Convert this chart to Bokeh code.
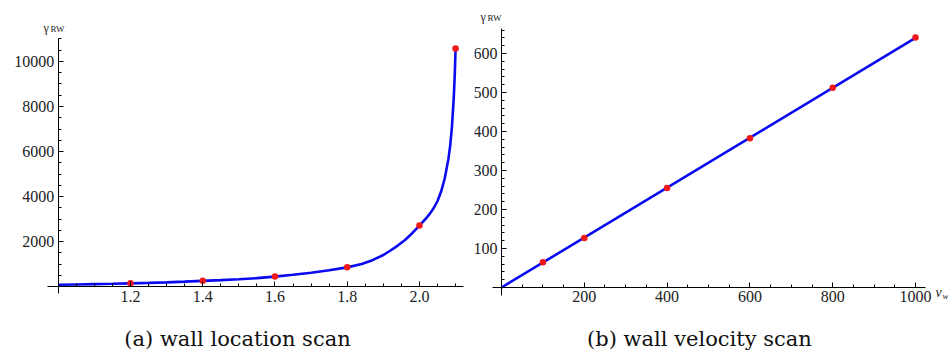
from bokeh.plotting import figure
from bokeh.models import FixedTicker, Label, Range1d, PrintfTickFormatter
from bokeh.layouts import row
from bokeh.embed import file_html
from bokeh.resources import INLINE

# ---------------- data: wall location scan ----------------
loc_curve_x = [1.00, 1.05, 1.10, 1.15, 1.20, 1.25, 1.30, 1.35, 1.40, 1.45,
               1.50, 1.55, 1.60, 1.65, 1.70, 1.75, 1.80, 1.84, 1.87, 1.90,
               1.92, 1.94, 1.96, 1.98, 2.00, 2.01, 2.02, 2.03, 2.04, 2.05,
               2.06, 2.07, 2.08, 2.085, 2.09, 2.095, 2.098, 2.10]
loc_curve_y = [75, 90, 105, 120, 140, 160, 185, 215, 250, 284,
               322, 372, 440, 520, 610, 720, 850, 1000, 1170, 1400,
               1600, 1820, 2070, 2370, 2710, 2880, 3060, 3260, 3500, 3800,
               4220, 4800, 5650, 6250, 7100, 8380, 9500, 10580]
loc_pts_x = [1.2, 1.4, 1.6, 1.8, 2.0, 2.1]
loc_pts_y = [140, 260, 440, 860, 2710, 10580]
loc_xticks = [1.2, 1.4, 1.6, 1.8, 2.0]
loc_xminor = [1.0 + 0.05 * i for i in range(23)]
loc_yticks = [2000, 4000, 6000, 8000, 10000]
loc_yminor = [500 * i for i in range(23)]

# ---------------- data: wall velocity scan ----------------
vel_line_x = [0, 1000]
vel_line_y = [0, 640]
vel_pts_x = [100, 200, 400, 600, 800, 1000]
vel_pts_y = [65, 127, 255, 383, 512, 641]
vel_xticks = [200, 400, 600, 800, 1000]
vel_xminor = [50 * i for i in range(21)]
vel_yticks = [100, 200, 300, 400, 500, 600]
vel_yminor = [20 * i for i in range(34)]

W, H = 474, 354
TICK_FONT = "Liberation Serif"
CAP_FONT = "DejaVu Serif"
LINE_COLOR = "#0a0af0"
DOT_COLOR = "#f01818"


def panel(xr, yr, xb, yb, origin, xticks, xminor, yticks, yminor):
    """One Mathematica-style panel: the frame fills the canvas and the
    axes cross at `origin`, limited to the given bounds."""
    p = figure(width=W, height=H, output_backend="svg", toolbar_location=None,
               x_range=Range1d(*xr), y_range=Range1d(*yr),
               min_border=0)
    p.outline_line_color = None
    p.grid.visible = False
    p.background_fill_color = "white"
    p.border_fill_color = "white"

    p.xaxis.fixed_location = origin[1]
    p.yaxis.fixed_location = origin[0]
    p.xaxis.bounds = xb
    p.yaxis.bounds = yb
    p.xaxis.ticker = FixedTicker(ticks=xticks, minor_ticks=xminor)
    p.yaxis.ticker = FixedTicker(ticks=yticks, minor_ticks=yminor)
    for ax in (p.xaxis, p.yaxis):
        ax.axis_line_color = "black"
        ax.axis_line_width = 1
        ax.major_tick_line_color = "black"
        ax.minor_tick_line_color = "black"
        ax.major_tick_in = 5
        ax.major_tick_out = 0
        ax.minor_tick_in = 3
        ax.minor_tick_out = 0
        ax.major_label_text_font = TICK_FONT
        ax.major_label_text_font_size = "16px"
        ax.major_label_text_color = "#222222"
        ax.major_label_standoff = 4
    return p


def mapper(xr, yr):
    def to_data(px, py):
        x = xr[0] + px * (xr[1] - xr[0]) / W
        y = yr[0] + (H - py) * (yr[1] - yr[0]) / H
        return x, y
    return to_data


def add_text(p, to_data, px, py, text, font, size, style="normal",
             align="left", baseline="alphabetic", color="#222222"):
    x, y = to_data(px, py)
    p.add_layout(Label(x=x, y=y, text=text, text_font=font,
                       text_font_size=size, text_font_style=style,
                       text_align=align, text_baseline=baseline,
                       text_color=color))


# ---------------- left panel ----------------
l_xr = (0.8403, 2.1524)
l_yr = (-3022, 12711)
left = panel(l_xr, l_yr, (0.9704, 2.122), (-311, 11022), (1.0, 0),
             loc_xticks, loc_xminor, loc_yticks, loc_yminor)
left.xaxis.formatter = PrintfTickFormatter(format="%.1f")
left.line(loc_curve_x, loc_curve_y, line_color=LINE_COLOR, line_width=2.6)
left.scatter(loc_pts_x, loc_pts_y, size=6.5, fill_color=DOT_COLOR,
             line_color=None)
lm = mapper(l_xr, l_yr)
add_text(left, lm, 43, 27, "γ", TICK_FONT, "12px")
add_text(left, lm, 50, 28, "RW", TICK_FONT, "9px")
add_text(left, lm, 237, 338, "(a) wall location scan", CAP_FONT, "21px",
         align="center", baseline="middle", color="#111111")

# ---------------- right panel ----------------
r_xr = (-65.2, 1079.7)
r_yr = (-171.8, 735.9)
right = panel(r_xr, r_yr, (-21.7, 1024.2), (-20.5, 664), (0, 0),
              vel_xticks, vel_xminor, vel_yticks, vel_yminor)
right.line(vel_line_x, vel_line_y, line_color=LINE_COLOR, line_width=2.6)
right.scatter(vel_pts_x, vel_pts_y, size=6.5, fill_color=DOT_COLOR,
              line_color=None)
rm = mapper(r_xr, r_yr)
add_text(right, rm, 6, 16, "γ", TICK_FONT, "12px")
add_text(right, rm, 13, 17, "RW", TICK_FONT, "9px")
add_text(right, rm, 461, 292, "v", TICK_FONT, "14px", style="italic")
add_text(right, rm, 468, 295, "w", TICK_FONT, "9px", style="italic")
add_text(right, rm, 225, 338, "(b) wall velocity scan", CAP_FONT, "21px",
         align="center", baseline="middle", color="#111111")

layout = row(left, right)
open("out.html", "w").write(file_html(layout, INLINE))
